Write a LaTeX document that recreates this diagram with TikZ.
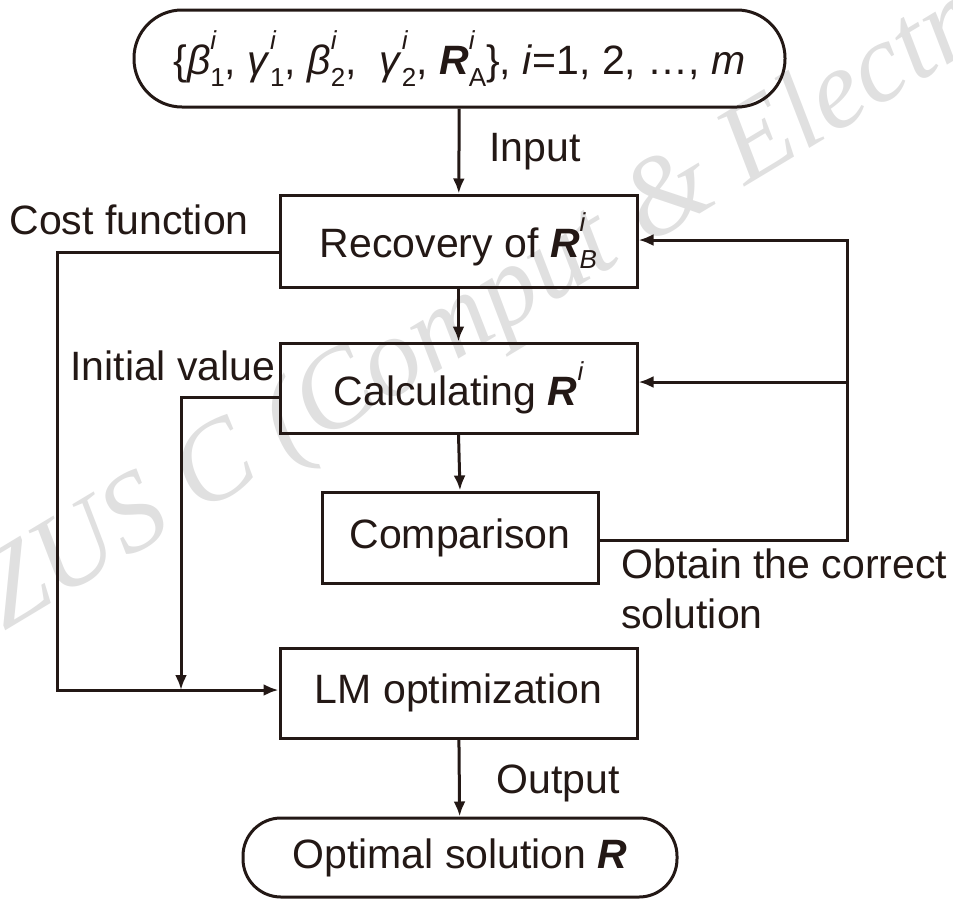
\documentclass[tikz,border=0pt]{standalone}
\usepackage{fontspec}
\setmainfont{Liberation Sans}
\newfontfamily\wmfont{Liberation Serif}
\usetikzlibrary{arrows.meta}
\definecolor{ink}{RGB}{35,24,21}
\newcommand{\mainsz}{\fontsize{20.5}{25}\selectfont}
\newcommand{\scsz}{\fontsize{13}{13}\selectfont}
\newcommand{\supsub}[2]{\makebox[0pt][l]{\raisebox{0.62em}{\scsz\itshape #1}}\raisebox{-0.28em}{\scsz #2}}
\newcommand{\supi}[1]{\raisebox{0.62em}{\scsz\itshape #1}}
\begin{document}
\begin{tikzpicture}[x=0.5pt,y=-0.5pt,
  box/.style={draw=ink, line width=1.5pt, minimum width=178.5pt, minimum height=45pt, inner sep=0pt, font=\mainsz, text=ink},
  term/.style={draw=ink, line width=1.5pt, inner sep=0pt, font=\mainsz, text=ink},
  lab/.style={font=\mainsz, text=ink, inner sep=0pt},
  conn/.style={draw=ink, line width=1.5pt},
  arr/.style={conn, -{Latex[length=7.5pt,width=6pt]}}]
\useasboundingbox (0,0) rectangle (953,901);
\begin{scope}
\clip (0,0) rectangle (953,901);
\node[anchor=base west, rotate=31, text=black!12, font=\wmfont\itshape\fontsize{56}{56}\selectfont, inner sep=0pt] (wm) at (4,632) {ZUS C (Comput \& Electro};
\end{scope}

\node[term, minimum width=325.5pt, minimum height=48.5pt, rounded corners=24pt] (top) at (459.5,58.5)
 {\{\textit{β}\supsub{i}{1}, \textit{γ}\supsub{i}{1}, \textit{β}\supsub{i}{2},\ \ \textit{γ}\supsub{i}{2}, \textbf{\textit{R}}\supsub{i}{A}\}, \textit{i}=1, 2, …, \textit{m}};
\node[box, minimum height=46pt] (rec) at (458.5,241) {Recovery of \textbf{\textit{R}}\supsub{i}{\textit{B}}};
\node[box] (calc) at (458.5,388) {Calculating \textbf{\textit{R}}\supi{i}};
\node[box, minimum width=138pt, minimum height=45.5pt] (cmp) at (460,537.5) {Comparison};
\node[box] (lm) at (458.5,693) {LM optimization};
\node[term, minimum width=217pt, minimum height=39.5pt, rounded corners=19pt] (out) at (460,857.5) {Optimal solution \textbf{\textit{R}}};

\node[lab, anchor=west] (linput) at (489,152) {Input};
\node[lab, anchor=west] (lcost) at (9,220) {Cost function};
\node[lab, anchor=west] (linit) at (70,366) {Initial value};
\node[lab, anchor=north west, align=left] (lobt) at (621,548) {Obtain the correct\\solution};
\node[lab, anchor=west] (loutput) at (496,783) {Output};

\coordinate (costL) at (57,252);
\coordinate (costB) at (57,690);
\coordinate (initL) at (181,397);
\coordinate (initB) at (181,690);
\coordinate (fbR) at (847,540);
\coordinate (fbT) at (847,240);
\coordinate (fbM) at (847,382);

\draw[arr] (top) -- (rec);
\draw[arr] (rec) -- (calc);
\draw[arr] (calc.south) -- (cmp.north);
\draw[arr] (lm) -- (out);
\draw[arr] (rec.west |- costL) -- (costL) -- (costB) -- (lm.west |- costB);
\draw[arr] (calc.west |- initL) -- (initL) -- (initB);
\draw[arr] (cmp.east |- fbR) -- (fbR) -- (fbT) -- (rec.east |- fbT);
\draw[arr] (fbM) -- (calc.east |- fbM);
\end{tikzpicture}
\end{document}
